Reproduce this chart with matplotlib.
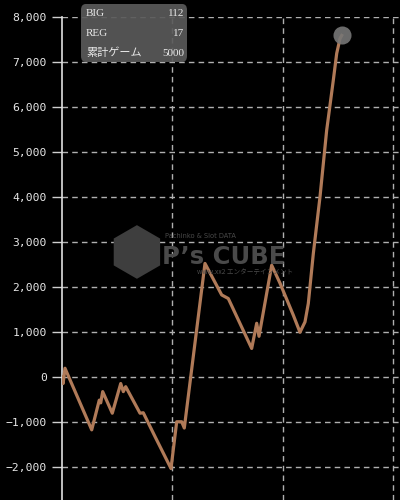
import matplotlib
matplotlib.use("Agg")
import matplotlib.pyplot as plt
from matplotlib.patches import FancyBboxPatch

# ---- data ----
games = [0, 20, 54, 539, 676, 702, 738, 912, 1065, 1112, 1155, 1415, 1474, 1687,
         1977, 2080, 2171, 2218, 2593, 2896, 3016, 3440, 3531, 3573, 3803, 3954,
         4195, 4316, 4407, 4467, 4558, 4679, 4800, 4920, 4982, 5042, 5073]
diff = [0, -150, 190, -1180, -520, -580, -330, -810, -150, -330, -220, -810, -800, -1330,
        -2040, -1000, -1000, -1140, 2520, 1820, 1740, 630, 1190, 900, 2480, 2080,
        1370, 990, 1220, 1630, 2740, 4000, 5480, 6590, 7190, 7520, 7590]
yticks = [-2000, -1000, 0, 1000, 2000, 3000, 4000, 5000, 6000, 7000, 8000]
xgrid = [2000, 4000, 6000]
legend_labels = ["BIG", "REG", "累計ゲーム"]
legend_values = ["112", "17", "5000"]

fig = plt.figure(figsize=(4, 5), dpi=100, facecolor="black")
ax = fig.add_axes([62/400, 0, 338/400, 483/500], facecolor="black")
ax.set_xlim(0, 6130)
ax.set_ylim(-2740, 8000)

# grid
for y in yticks:
    ax.axhline(y, color="#b0b0b0", lw=1, ls=(0, (4, 3)), zorder=1)
for x in xgrid:
    ax.axvline(x, color="#b0b0b0", lw=1, ls=(0, (4, 3)), zorder=1)

# spines
for s in ["top", "right", "bottom"]:
    ax.spines[s].set_visible(False)
ax.spines["left"].set_color("#e0e0e0")
ax.spines["left"].set_linewidth(1.2)

ax.set_yticks(yticks)
ax.set_yticklabels([f"{v:,}".replace("-", "\u2212") for v in yticks],
                   family="DejaVu Sans Mono", fontsize=8.2, color="#e6e6e6")
ax.tick_params(axis="y", length=7, width=1, color="#cfcfcf", pad=4)
ax.set_xticks([])

# watermark
wm = "#4a4a4a"
fig.text(0.405, 0.487, "P\u2019s CUBE", ha="left", va="center",
         fontsize=17.5, fontweight="bold", color=wm, family="DejaVu Sans", zorder=2)
fig.text(0.412, 0.529, "Pachinko & Slot DATA", ha="left", va="center",
         fontsize=4.8, color=wm, zorder=2)
fig.text(0.492, 0.455, "www.xx2 エンターテインメント", ha="left", va="center",
         fontsize=4.8, color=wm, family=["Noto Sans CJK JP", "DejaVu Sans"], zorder=2)
fig.text(0.34, 0.49, "⬢", ha="center", va="center",
         fontsize=46, color="#3e3e3e", family="DejaVu Sans", zorder=2)

# line
ax.plot(games, diff, color="#b07a58", lw=2.3, solid_joinstyle="round", zorder=3)
ax.plot(games[-1], diff[-1], "o", ms=13, color="#767676", alpha=0.9, mec="none", zorder=4)

# legend box
box = FancyBboxPatch((81/400, 1 - 62/500), 106/400, 58/500,
                     boxstyle="round,pad=0,rounding_size=0.012",
                     transform=fig.transFigure, facecolor="#5a5a5a", edgecolor="none",
                     alpha=0.92, zorder=5)
fig.patches.append(box)
rows_y = [14, 33, 53]
for lab, val, yy in zip(legend_labels, legend_values, rows_y):
    fig.text(86/400, 1 - yy/500, lab, ha="left", va="center", fontsize=8, color="#e8e8e8",
             family=["Liberation Serif", "Noto Sans CJK JP"], zorder=6)
    fig.text(184/400, 1 - yy/500, val, ha="right", va="center", fontsize=8, color="#e8e8e8",
             family=["Liberation Serif", "Noto Sans CJK JP"], zorder=6)

fig.savefig("out.png", dpi=100, facecolor="black")
